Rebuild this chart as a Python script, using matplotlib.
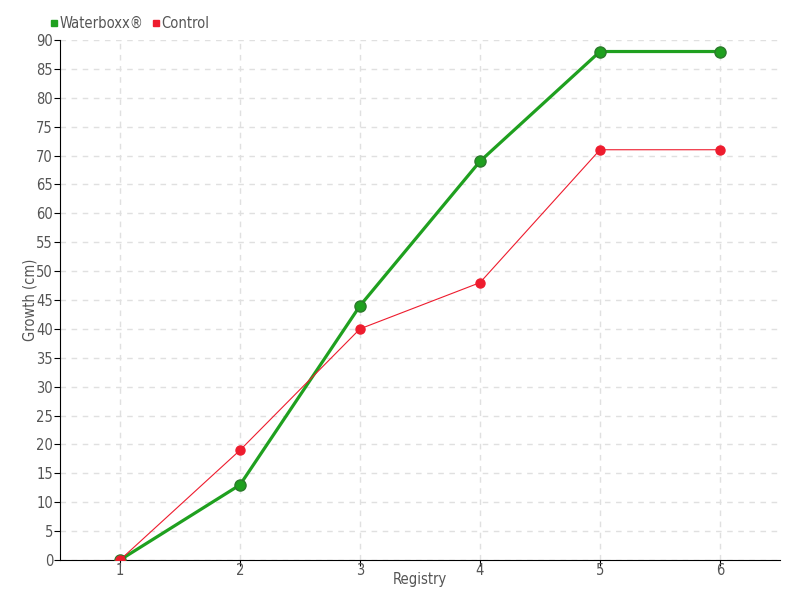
import matplotlib
matplotlib.use("Agg")
import matplotlib.pyplot as plt
from matplotlib.lines import Line2D

registry = [1, 2, 3, 4, 5, 6]
waterboxx = [0, 13, 44, 69, 88, 88]
control = [0, 19, 40, 48, 71, 71]
yticks = list(range(0, 91, 5))

plt.rcParams['font.family'] = ['DejaVu Sans']
plt.rcParams['font.stretch'] = 'condensed'
txt = '#555555'
fs = 10.5

fig = plt.figure(figsize=(8, 6), dpi=100)
ax = fig.add_axes([0.075, 0.0667, 0.9, 0.8667])

ax.plot(registry, waterboxx, color='#1fa01f', lw=2.3, marker='o', ms=8,
        markerfacecolor='#1fa01f', markeredgecolor='#2b7a2b', markeredgewidth=1, zorder=3)
ax.plot(registry, control, color='#ee1c2e', lw=0.8, marker='o', ms=6.5,
        markerfacecolor='#ee1c2e', markeredgecolor='#ee1c2e', zorder=4)

ax.set_xlim(0.5, 6.5)
ax.set_ylim(0, 90)
ax.set_xticks(registry)
ax.set_yticks(yticks)
ax.grid(True, color='#e0e0e0', linestyle=(0, (4, 4)), lw=1)
ax.set_axisbelow(True)
for s in ['top', 'right']:
    ax.spines[s].set_visible(False)
ax.spines['left'].set_color('black')
ax.spines['bottom'].set_color('black')
ax.tick_params(axis='both', labelsize=fs, colors='black', labelcolor=txt, length=4)
ax.tick_params(axis='x', pad=-2)
ax.tick_params(axis='y', pad=1)
ax.set_xlabel('Registry', fontsize=fs, color=txt, labelpad=-4)
ax.set_ylabel('Growth (cm)', fontsize=fs, color=txt, va='center')
ax.yaxis.set_label_coords(-0.042, 0.5)

handles = [Line2D([], [], color='#1fa01f', marker='s', ls='none', ms=4.5),
           Line2D([], [], color='#ee1c2e', marker='s', ls='none', ms=4.5)]
fig.legend(handles, ['Waterboxx®', 'Control'], loc='upper left',
           bbox_to_anchor=(0.044, 0.995), ncol=2, frameon=False, fontsize=fs,
           labelcolor=txt, handletextpad=0.0, columnspacing=0.4, handlelength=0.8)

fig.savefig('out.png', dpi=100)
